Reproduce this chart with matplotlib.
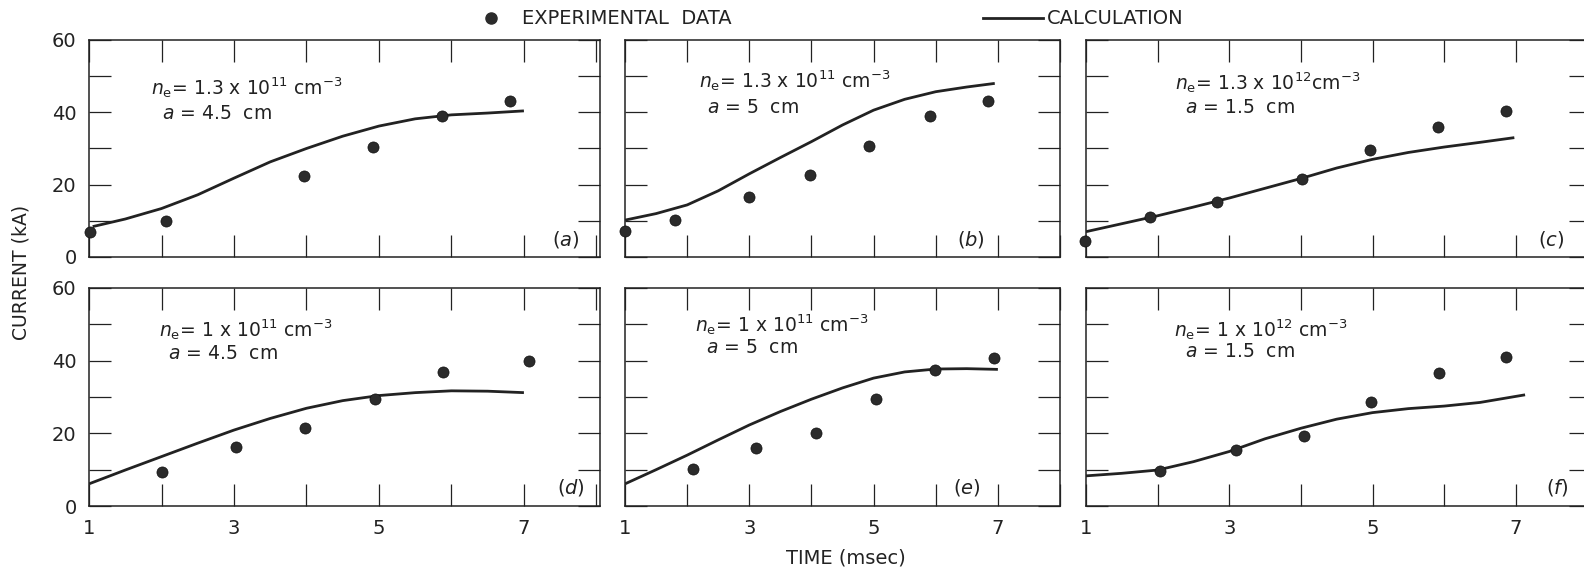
import numpy as np
import matplotlib
matplotlib.use('Agg')
import matplotlib.pyplot as plt
from matplotlib.lines import Line2D

plt.rcParams['font.family'] = 'DejaVu Sans'
plt.rcParams['mathtext.fontset'] = 'dejavusans'

# --- measured current (kA) vs time (msec) -----------------------------------
EXP_T = {
    'a': [1.02, 2.06, 3.97, 4.92, 5.87, 6.81],
    'b': [1.00, 1.80, 3.00, 3.97, 4.92, 5.90, 6.84],
    'c': [0.98, 1.90, 2.83, 4.02, 4.97, 5.91, 6.87],
    'd': [2.00, 3.03, 3.98, 4.95, 5.89, 7.07],
    'e': [2.10, 3.11, 4.07, 5.04, 5.99, 6.93],
    'f': [2.04, 3.09, 4.04, 4.98, 5.93, 6.87],
}
EXP_I = {
    'a': [6.8, 9.9, 22.5, 30.3, 39.0, 43.2],
    'b': [7.2, 10.2, 16.5, 22.7, 30.7, 39.0, 43.0],
    'c': [4.5, 11.1, 15.1, 21.7, 29.6, 36.0, 40.3],
    'd': [9.3, 16.2, 21.4, 29.4, 37.0, 39.9],
    'e': [10.2, 16.1, 20.2, 29.5, 37.5, 40.7],
    'f': [9.5, 15.4, 19.3, 28.6, 36.7, 40.9],
}

# --- calculated current curves -----------------------------------------------
CALC_T = {
    'a': [1.05, 1.5, 2, 2.5, 3, 3.5, 4, 4.5, 5, 5.5, 6, 6.5, 7],
    'b': [1.0, 1.5, 2, 2.5, 3, 3.5, 4, 4.5, 5, 5.5, 6, 6.5, 6.95],
    'c': [1.0, 1.5, 2, 2.5, 3, 3.5, 4, 4.5, 5, 5.5, 6, 6.5, 6.98],
    'd': [1.0, 1.5, 2, 2.5, 3, 3.5, 4, 4.5, 5, 5.5, 6, 6.5, 7],
    'e': [1.0, 1.5, 2, 2.5, 3, 3.5, 4, 4.5, 5, 5.5, 6, 6.5, 7],
    'f': [1.0, 1.5, 2, 2.5, 3, 3.5, 4, 4.5, 5, 5.5, 6, 6.5, 7.13],
}
CALC_I = {
    'a': [8.4, 10.5, 13.4, 17.2, 21.8, 26.3, 30.0, 33.4, 36.2, 38.2, 39.3, 39.8, 40.4],
    'b': [10.2, 12.0, 14.4, 18.3, 23.0, 27.5, 31.9, 36.5, 40.6, 43.6, 45.7, 47.0, 48.0],
    'c': [7.0, 9.2, 11.4, 13.8, 16.3, 19.0, 21.7, 24.6, 27.0, 28.9, 30.4, 31.7, 33.0],
    'd': [6.1, 9.9, 13.6, 17.3, 20.9, 24.1, 26.9, 29.0, 30.4, 31.2, 31.7, 31.6, 31.2],
    'e': [6.1, 10.0, 14.0, 18.2, 22.3, 26.0, 29.4, 32.5, 35.2, 36.9, 37.7, 37.8, 37.6],
    'f': [8.3, 9.0, 9.9, 12.2, 15.0, 18.5, 21.4, 23.9, 25.7, 26.8, 27.5, 28.5, 30.6],
}

DENSITY = {
    'a': r'$n_{\rm e}$= 1.3 x 10$^{11}$ cm$^{-3}$',
    'b': r'$n_{\rm e}$= 1.3 x 10$^{11}$ cm$^{-3}$',
    'c': r'$n_{\rm e}$= 1.3 x 10$^{12}$cm$^{-3}$',
    'd': r'$n_{\rm e}$= 1 x 10$^{11}$ cm$^{-3}$',
    'e': r'$n_{\rm e}$= 1 x 10$^{11}$ cm$^{-3}$',
    'f': r'$n_{\rm e}$= 1 x 10$^{12}$ cm$^{-3}$',
}
RADIUS = {
    'a': r'$a$ = 4.5  cm', 'b': r'$a$ = 5  cm', 'c': r'$a$ = 1.5  cm',
    'd': r'$a$ = 4.5  cm', 'e': r'$a$ = 5  cm', 'f': r'$a$ = 1.5  cm',
}

# panel geometry (figure fraction) and x ranges
COLS = [(0.0562, 0.3226, 8.05), (0.3946, 0.2746, 7.0), (0.6856, 0.3188, 8.05)]
ROWS = [(0.5515, 0.3787), (0.1169, 0.3805)]
# annotation anchors (data coords): density line, radius line, panel letter
TXT_POS = {
    'a': ((1.86, 46.7), (2.00, 39.8), (7.58, 4.7)),
    'b': ((2.19, 48.9), (2.32, 41.4), (6.57, 4.7)),
    'c': ((2.24, 48.3), (2.38, 41.4), (7.50, 4.7)),
    'd': ((1.97, 48.5), (2.09, 42.1), (7.65, 5.0)),
    'e': ((2.13, 49.9), (2.30, 43.5), (6.50, 5.0)),
    'f': ((2.23, 48.5), (2.38, 42.4), (7.58, 5.0)),
}

INK = '#222222'
DOT = '#2b2b2b'

fig = plt.figure(figsize=(15.84, 5.73), dpi=100)

keys = [['a', 'b', 'c'], ['d', 'e', 'f']]
for r, (y0, h) in enumerate(ROWS):
    for c, (x0, w, xmax) in enumerate(COLS):
        k = keys[r][c]
        ax = fig.add_axes([x0, y0, w, h])
        ax.plot(CALC_T[k], CALC_I[k], color=INK, lw=2.0, solid_capstyle='butt')
        ax.plot(EXP_T[k], EXP_I[k], 'o', color=DOT, ms=8, mec='#111111', mew=0.5,
                clip_on=False, zorder=5)
        ax.set_xlim(1, xmax)
        ax.set_ylim(0, 60)
        ax.set_xticks(range(1, 9))
        ax.set_yticks(range(0, 61, 10))
        ax.tick_params(direction='in', length=16, width=0.9, color=INK,
                       top=True, right=True, labelsize=14, labelcolor=INK, pad=9)
        if r == 1:
            ax.set_xticklabels(['1', '', '3', '', '5', '', '7', ''])
        else:
            ax.set_xticklabels([])
        if c == 0:
            ax.set_yticklabels(['0', '', '20', '', '40', '', '60'])
        else:
            ax.set_yticklabels([])
        for sp in ax.spines.values():
            sp.set_color(INK)
            sp.set_linewidth(1.1)

        p1, p2, p3 = TXT_POS[k]
        ax.text(*p1, DENSITY[k], fontsize=13.5, color=INK, va='center', ha='left')
        ax.text(*p2, RADIUS[k], fontsize=13.5, color=INK, va='center', ha='left')
        ax.text(*p3, '($\\it{%s}$)' % k, fontsize=14, color=INK, va='center', ha='center')

# shared axis labels
fig.text(0.0133, 0.525, 'CURRENT (kA)', rotation=90, fontsize=13.5, color=INK,
         va='center', ha='center')
fig.text(0.534, 0.026, 'TIME (msec)', fontsize=14, color=INK, va='center', ha='center')

# key at the top of the figure
ky = 1 - 18 / 573
fig.add_artist(Line2D([491 / 1584], [ky], marker='o', ms=8, color=DOT, ls='none'))
fig.text(522 / 1584, ky, 'EXPERIMENTAL  DATA', fontsize=14, color=INK, va='center', ha='left')
fig.add_artist(Line2D([983 / 1584, 1043 / 1584], [ky, ky], color=INK, lw=2.0))
fig.text(1047 / 1584, ky, 'CALCULATION', fontsize=14, color=INK, va='center', ha='left')

fig.savefig('out.png', dpi=100)
